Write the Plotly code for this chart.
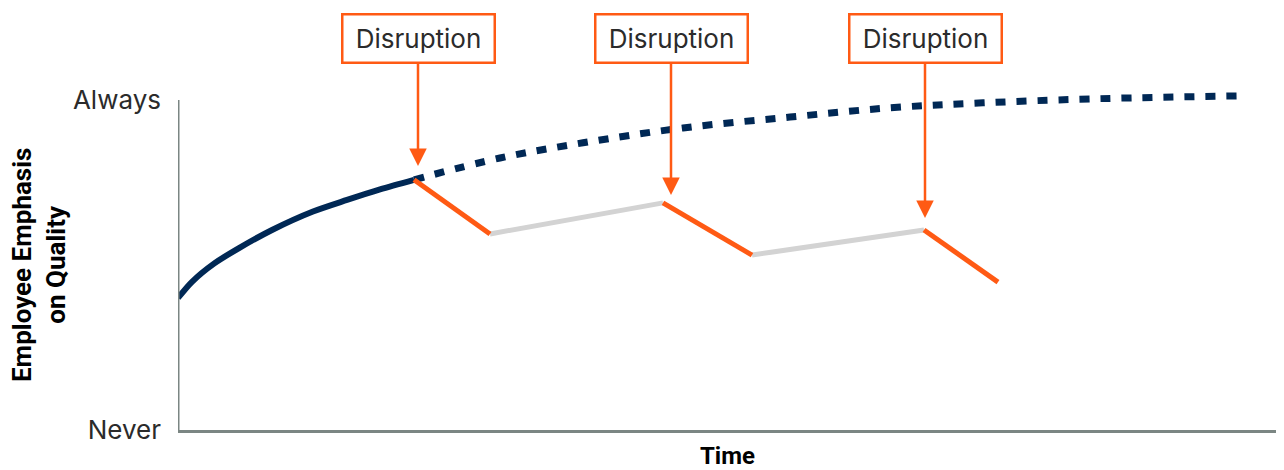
import plotly.graph_objects as go


# values (time units / emphasis 0=Never .. 100=Always)
steady_t = [0, 1.4, 3.6, 6.1, 9.4, 13.5, 16.9, 20.2, 23.6]
steady_q = [40, 44.9, 50.4, 55.1, 60.6, 66.2, 69.7, 72.9, 75.8]

potential_t = [23.6, 32.2, 40.5, 50.5, 61.2, 71.2, 80.5, 91.2, 105.9]
potential_q = [75.8, 82.4, 87.0, 91.5, 94.8, 97.6, 99.1, 100.3, 101.2]

drop_t = [[23.6, 31.2], [48.5, 57.4], [74.6, 82.0]]
drop_q = [[75.8, 59.4], [68.8, 53.0], [60.6, 44.8]]

recover_t = [[31.2, 48.5], [57.4, 74.6]]
recover_q = [[59.4, 68.8], [53.0, 60.6]]

disrupt_t = [24.0, 49.3, 74.7]
disrupt_q = [80.0, 71.2, 64.2]
disrupt_label = 'Disruption'

y_ticks = [0, 100]
y_labels = ['Never', 'Always']

NAVY = '#002855'
ORANGE = '#ff5a14'
GREY = '#d3d3d3'
AXIS = '#7b8683'
TEXT = '#2b2b2b'

BODY_FONT = 'Inter, Roboto, "Liberation Sans", sans-serif'
BOLD_FONT = 'Roboto, "Liberation Sans", Arial, sans-serif'

# the page body adds an 8px margin, so the figure is 8px smaller and shifted
W, H = 1276, 462
MARGIN = {'l': 170, 'r': 7, 't': 82, 'b': 40}


fig = go.Figure()

fig.add_trace(
    go.Scatter(
        x=steady_t, y=steady_q,
        mode='lines',
        line={'color': NAVY, 'width': 6, 'shape': 'spline', 'smoothing': 0.8},
        hoverinfo='skip',
    )
)

fig.add_trace(
    go.Scatter(
        x=potential_t, y=potential_q,
        mode='lines',
        line={'color': NAVY, 'width': 7, 'shape': 'spline', 'dash': '10px,11px'},
        hoverinfo='skip',
    )
)

for t, q in zip(recover_t, recover_q):
    fig.add_trace(
        go.Scatter(
            x=t, y=q,
            mode='lines',
            line={'color': GREY, 'width': 5},
            hoverinfo='skip',
        )
    )

for t, q in zip(drop_t, drop_q):
    fig.add_trace(
        go.Scatter(
            x=t, y=q,
            mode='lines',
            line={'color': ORANGE, 'width': 5},
            hoverinfo='skip',
        )
    )

# y axis line drawn as a shape so the plot area can extend above "Always"
fig.add_shape(
    type='line', xref='x', yref='y',
    x0=0, x1=0, y0=0, y1=100,
    line={'color': AXIS, 'width': 3},
)

for t, q in zip(disrupt_t, disrupt_q):
    fig.add_annotation(
        x=t, y=q,
        ax=t, ay=118.5,
        xref='x', yref='y', axref='x', ayref='y',
        text=disrupt_label,
        font={'family': BODY_FONT, 'size': 26, 'color': TEXT},
        showarrow=True,
        arrowhead=2,
        arrowsize=1.4,
        arrowwidth=2.5,
        arrowcolor=ORANGE,
        bordercolor=ORANGE,
        borderwidth=2.5,
        borderpad=5,
        bgcolor='white',
        width=140,
        height=36,
    )

plot_w = W - MARGIN['l'] - MARGIN['r']
plot_h = H - MARGIN['t'] - MARGIN['b']

fig.add_annotation(
    x=(31 - MARGIN['l']) / plot_w,
    y=(H - MARGIN['b'] - 257) / plot_h,
    xref='paper', yref='paper',
    xanchor='center', yanchor='middle',
    text='Employee Emphasis<br>on Quality',
    textangle=-90,
    showarrow=False,
    font={'family': BOLD_FONT, 'size': 26, 'color': 'black', 'weight': 'bold'},
)

fig.update_layout(
    width=W, height=H,
    margin=MARGIN,
    plot_bgcolor='white',
    paper_bgcolor='white',
    showlegend=False,
    xaxis={
        'range': [0, 109.9],
        'automargin': False,
        'showgrid': False,
        'zeroline': False,
        'showticklabels': False,
        'showline': True,
        'linecolor': AXIS,
        'linewidth': 3,
        'title': {
            'text': '<b>Time</b>',
            'font': {'family': BOLD_FONT, 'size': 24, 'color': 'black'},
            'standoff': 18,
        },
    },
    yaxis={
        'range': [0, 103],
        'automargin': False,
        'showgrid': False,
        'zeroline': False,
        'showline': False,
        'tickvals': y_ticks,
        'ticktext': y_labels,
        'ticklabelstandoff': 16,
        'tickfont': {'family': BODY_FONT, 'size': 26, 'color': TEXT},
    },
)

fig.write_html('out.html')
